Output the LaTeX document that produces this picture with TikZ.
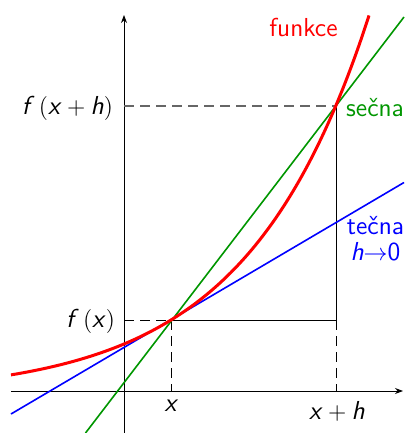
\documentclass[tikz,border=0pt]{standalone}
\usetikzlibrary{arrows.meta}
\definecolor{secgreen}{RGB}{0,150,0}
\newcommand{\vi}[1]{\textit{#1}}
\begin{document}
\begin{tikzpicture}[x=0.5pt,y=-0.5pt,
  every node/.style={font=\fontsize{13}{15}\selectfont\sffamily},
  axis/.style={black,line width=0.5pt,-{Stealth[length=4pt,width=3pt]}},
  guide/.style={black,line width=0.5pt,dash pattern=on 5pt off 3pt},
  guidegray/.style={black!60,line width=0.6pt,dash pattern=on 5pt off 3pt},
  frame/.style={black,line width=0.5pt},
  fun/.style={red,line width=1.5pt},
  sec/.style={secgreen,line width=0.8pt},
  tan/.style={blue,line width=0.8pt}]
\useasboundingbox (0,0) rectangle (404,433);
% coordinates
\coordinate (O) at (124,391);
\coordinate (xl) at (11,391);
\coordinate (xr) at (403,391);
\coordinate (yb) at (124,433);
\coordinate (yt) at (124,15);
\coordinate (P) at (171,320);
\coordinate (Q) at (336,106);
\coordinate (Px) at (171,391);
\coordinate (Qx) at (336,391);
\coordinate (Py) at (124,320);
\coordinate (Qy) at (124,106);
\coordinate (R) at (336,320);
\coordinate (ts) at (11,414);
\coordinate (te) at (404,182.5);
\coordinate (ss) at (85.5,433);
\coordinate (se) at (404,17);
% axes
\draw[axis] (xl) -- (xr);
\draw[axis] (yb) -- (yt);
% guides
\draw[guidegray] (Qy) -- (Q);
\draw[guide] (Py) -- (P);
\draw[guide] (P) -- (Px);
\draw[guide] (R) -- (Qx);
\draw[frame] (P) -- (R) -- (Q);
% lines
\draw[tan] (ts) -- (te);
\draw[sec] (ss) -- (se);
\draw[fun] plot[domain=-113:245,samples=120,smooth] ({124+\x},{391-(51.2*exp(0.00818*\x)-4.2)});
% labels
\node[red] (lf) at (303.5,27) {funkce};
\node[secgreen] (ls) at (375,108) {sečna};
\node[blue,align=center,inner sep=0pt] (lt) at (375.5,239) {tečna\\[-2pt]\vi{h}${\to}$0};
\node (lfxh) at (67.5,108) {\vi{f}\,$($\vi{x}${}+{}$\vi{h}$)$};
\node (lfx) at (90.5,321.5) {\vi{f}\,$($\vi{x}$)$};
\node (lx) at (171.5,406) {\vi{x}};
\node (lxh) at (337,411) {\vi{x}${}+{}$\vi{h}};
\end{tikzpicture}
\end{document}
